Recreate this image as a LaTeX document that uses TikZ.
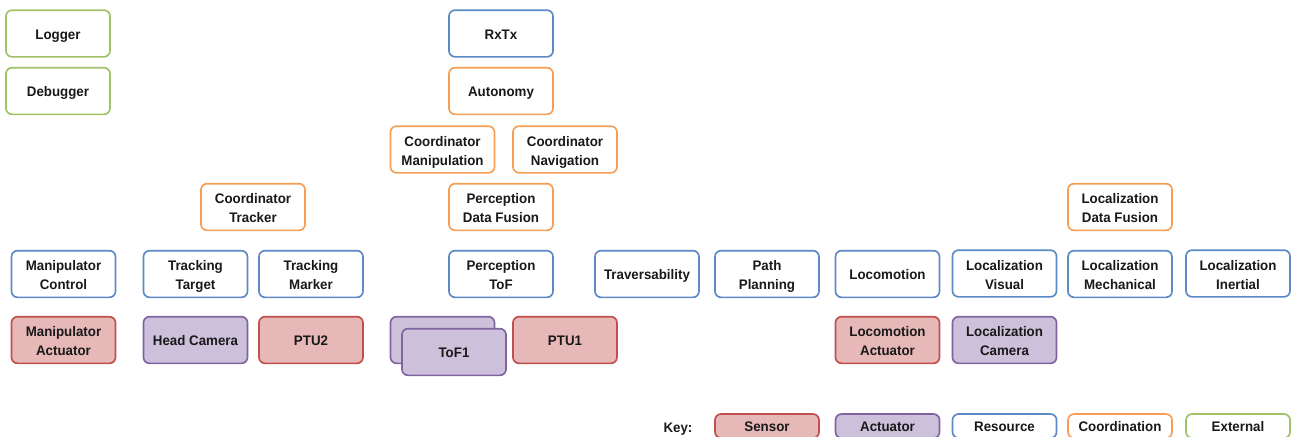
\documentclass[tikz,border=0pt]{standalone}
\usepackage{fontspec}
\setmainfont[FakeStretch=0.96]{Liberation Sans}
\definecolor{gb}{HTML}{5B8AC6}
\definecolor{go}{HTML}{F79E55}
\definecolor{gg}{HTML}{9FC266}
\definecolor{rb}{HTML}{C0504D}
\definecolor{rf}{HTML}{E6B8B7}
\definecolor{pb}{HTML}{8064A2}
\definecolor{pf}{HTML}{CCC0DA}
\tikzset{x=0.75pt,y=-0.75pt,
bx/.style={draw,rounded corners=4.5pt,line width=1.25pt,minimum width=78pt,minimum height=35pt,align=center,inner sep=0pt,font=\bfseries\fontsize{10.4pt}{14.4pt}\selectfont,text=black!90,
 execute at begin node={\rule{0pt}{11.2pt}},execute at end node={\rule[-2.5pt]{0pt}{2.5pt}}},
two/.style={execute at begin node={\rule{0pt}{26.4pt}}},
res/.style={bx,draw=gb,fill=white},
coord/.style={bx,draw=go,fill=white},
ext/.style={bx,draw=gg,fill=white},
sen/.style={bx,draw=rb,fill=rf},
act/.style={bx,draw=pb,fill=pf},
keybox/.style={minimum height=18pt}}
\begin{document}
\begin{tikzpicture}
\useasboundingbox (0,0) rectangle (1293,436);
\node[ext] (logger) at (58,33.5) {Logger};
\node[ext] (debug) at (58,91) {Debugger};
\node[res] (rxtx) at (501,33.5) {RxTx};
\node[coord] (auto) at (501,91) {Autonomy};
\node[coord,two] (cm) at (442.5,149.5) {Coordinator\\Manipulation};
\node[coord,two] (cn) at (565,149.5) {Coordinator\\Navigation};
\node[coord,two] (ct) at (253,207) {Coordinator\\Tracker};
\node[coord,two] (pdf) at (501,207) {Perception\\Data Fusion};
\node[coord,two] (ldf) at (1120,207) {Localization\\Data Fusion};
\node[res,two] (mc) at (63.5,274) {Manipulator\\Control};
\node[res,two] (tt) at (195.5,274) {Tracking\\Target};
\node[res,two] (tm) at (311,274) {Tracking\\Marker};
\node[res,two] (pt) at (501,274) {Perception\\ToF};
\node[res] (trav) at (647,274) {Traversability};
\node[res,two] (pp) at (767,274) {Path\\Planning};
\node[res] (loco) at (887.5,274) {Locomotion};
\node[res,two] (lv) at (1004.5,273.5) {Localization\\Visual};
\node[res,two] (lm) at (1120,274) {Localization\\Mechanical};
\node[res,two] (li) at (1238,273.5) {Localization\\Inertial};
\node[sen,two] (ma) at (63.5,340) {Manipulator\\Actuator};
\node[act] (hc) at (195.5,340) {Head Camera};
\node[sen] (ptu2) at (311,340) {PTU2};
\node[act] (tof0) at (442.5,340) {};
\node[act] (tof1) at (454,352) {ToF1};
\node[sen] (ptu1) at (565,340) {PTU1};
\node[sen,two] (la) at (887.5,340) {Locomotion\\Actuator};
\node[act,two] (lc) at (1004.5,340) {Localization\\Camera};
\node[font=\bfseries\fontsize{10.4pt}{12pt}\selectfont,text=black!90] (key) at (678,429) {Key:};
\node[sen,keybox] (k1) at (767,426) {Sensor};
\node[act,keybox] (k2) at (887.5,426) {Actuator};
\node[res,keybox] (k3) at (1004.5,426) {Resource};
\node[coord,keybox] (k4) at (1120,426) {Coordination};
\node[ext,keybox] (k5) at (1238,426) {External};
\end{tikzpicture}
\end{document}
